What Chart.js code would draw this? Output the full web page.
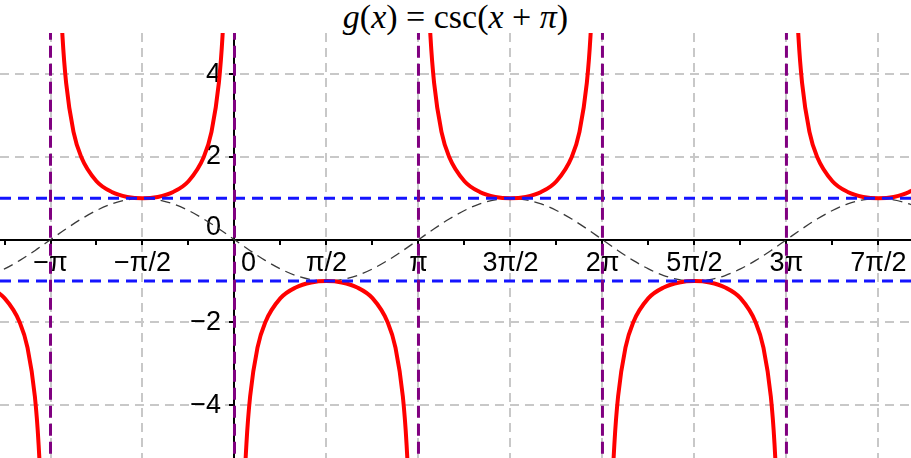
<!DOCTYPE html>
<html>
<head>
<meta charset="utf-8">
<title>g(x) = csc(x + π)</title>
<script src="https://cdn.jsdelivr.net/npm/chart.js@4.4.0/dist/chart.umd.min.js"></script>
<style>
body { margin: 0; background: #fff; }
#title {
	height: 33px; line-height: 33px; text-align: center;
	font-family: "Liberation Serif", serif; font-size: 34px; color: #000;
}
#mycanvas { display: block; }
</style>
</head>
<body>
<div id="title"><i>g</i>(<i>x</i>) = csc(<i>x</i> + <i>π</i>)</div>
<canvas id="mycanvas" width="911" height="425"></canvas>
<script>
// x is measured in multiples of pi
var xMin = -1.2745, xMax = 3.677;
var yMin = -5.28, yMax = 5;

var xTicks = [-1.25, -1, -0.75, -0.5, -0.25, 0, 0.25, 0.5, 0.75, 1, 1.25, 1.5, 1.75, 2, 2.25, 2.5, 2.75, 3, 3.25, 3.5];
var xTickLabels = ['', '−π', '', '−π/2', '', '   \u20090', '', 'π/2', '', 'π', '', '3π/2', '', '2π', '', '5π/2', '', '3π', '', '7π/2'];
var yTicks = [-4, -2, 0, 2, 4];
var yTickLabels = ['−4\u2002', '−2\u2002', ['0\u2002', ''], '2\u2002', '4\u2002'];

// one csc branch between two asymptotes: offset from the left asymptote, |value|
var branchOffsets = [0.02, 0.035, 0.05, 0.065, 0.085, 0.125, 0.167, 0.25, 0.333, 0.417, 0.5, 0.583, 0.667, 0.75, 0.833, 0.875, 0.915, 0.935, 0.95, 0.965, 0.98];
var branchValues  = [15.9, 9.11, 6.39, 4.93, 3.79, 2.61, 2.0, 1.414, 1.155, 1.035, 1, 1.035, 1.155, 1.414, 2.0, 2.61, 3.79, 4.93, 6.39, 9.11, 15.9];

// the dashed sine guide over the same half period
var sineOffsets = [0, 0.0833, 0.1667, 0.25, 0.3333, 0.4167, 0.5, 0.5833, 0.6667, 0.75, 0.8333, 0.9167];
var sineValues  = [0, 0.259, 0.5, 0.707, 0.866, 0.966, 1, 0.966, 0.866, 0.707, 0.5, 0.259];

var periodStarts = [-2, -1, 0, 1, 2, 3];
var periodSigns  = [-1, 1, -1, 1, -1, 1];
var asymptotes = [-1, 0, 1, 2, 3];
var limitLines = [1, -1];

var cscData = [];
var sineData = [];
for (var p = 0; p < periodStarts.length; p++) {
	for (var i = 0; i < branchOffsets.length; i++) {
		cscData.push({x: periodStarts[p] + branchOffsets[i], y: periodSigns[p] * branchValues[i]});
	}
	cscData.push({x: periodStarts[p] + 1, y: null});
	for (var j = 0; j < sineOffsets.length; j++) {
		sineData.push({x: periodStarts[p] + sineOffsets[j], y: periodSigns[p] * sineValues[j]});
	}
}
sineData.push({x: 4, y: 0});

var datasets = [];
asymptotes.forEach(function(a) {
	datasets.push({
		data: [{x: a, y: yMax + 1}, {x: a, y: yMin - 1}],
		borderColor: '#800080', borderWidth: 3, borderDash: [12, 6]
	});
});
limitLines.forEach(function(v) {
	datasets.push({
		data: [{x: xMin, y: v}, {x: xMax, y: v}],
		borderColor: '#1414ff', borderWidth: 3, borderDash: [11, 7]
	});
});
datasets.push({
	data: cscData, borderColor: '#ff0000', borderWidth: 4,
	cubicInterpolationMode: 'monotone', spanGaps: false
});
datasets.push({
	data: sineData, borderColor: '#3a3a3a', borderWidth: 1.3, borderDash: [10, 6],
	cubicInterpolationMode: 'monotone'
});
datasets.forEach(function(d) { d.pointRadius = 0; d.fill = false; d.clip = 0; });

var gridColor = function(ctx) {
	if (!ctx.tick || ctx.tick.value === 0) return 'rgba(0,0,0,0)';
	return ctx.tick.label === '' ? 'rgba(0,0,0,0)' : '#c8c8c8';
};

var ctx = document.getElementById('mycanvas');
var chart = new Chart(ctx, {
	type: 'line',
	data: { datasets: datasets },
	options: {
		responsive: false,
		animation: false,
		layout: { padding: 0 },
		plugins: { legend: { display: false }, tooltip: { enabled: false } },
		scales: {
			x: {
				type: 'linear', min: xMin, max: xMax, position: { y: 0 },
				afterBuildTicks: function(s) { s.ticks = xTicks.map(function(v) { return {value: v}; }); },
				afterFit: function(s) { s.height = 0; s.paddingLeft = 0; s.paddingRight = 0; },
				ticks: {
					autoSkip: false, maxRotation: 0, minRotation: 0, padding: 4, color: '#000',
					font: { family: 'Liberation Sans', size: 27 },
					callback: function(v, i) { return xTickLabels[i]; }
				},
				grid: { color: gridColor, lineWidth: 2, tickColor: '#000', tickWidth: 2, tickLength: 4 },
				border: { display: true, color: '#000', width: 2, dash: [9, 6] }
			},
			y: {
				type: 'linear', min: yMin, max: yMax, position: { x: 0 },
				afterBuildTicks: function(s) { s.ticks = yTicks.map(function(v) { return {value: v}; }); },
				afterFit: function(s) { s.width = 0; s.paddingTop = 0; s.paddingBottom = 0; },
				ticks: {
					autoSkip: false, padding: 8, color: '#000',
					font: { family: 'Liberation Sans', size: 27, lineHeight: 0.9 },
					callback: function(v, i) { return yTickLabels[i]; }
				},
				grid: { color: gridColor, lineWidth: 2, tickColor: '#000', tickWidth: 2, tickLength: 4 },
				border: { display: true, color: '#000', width: 2, dash: [9, 6] }
			}
		}
	}
});
</script>
</body>
</html>
